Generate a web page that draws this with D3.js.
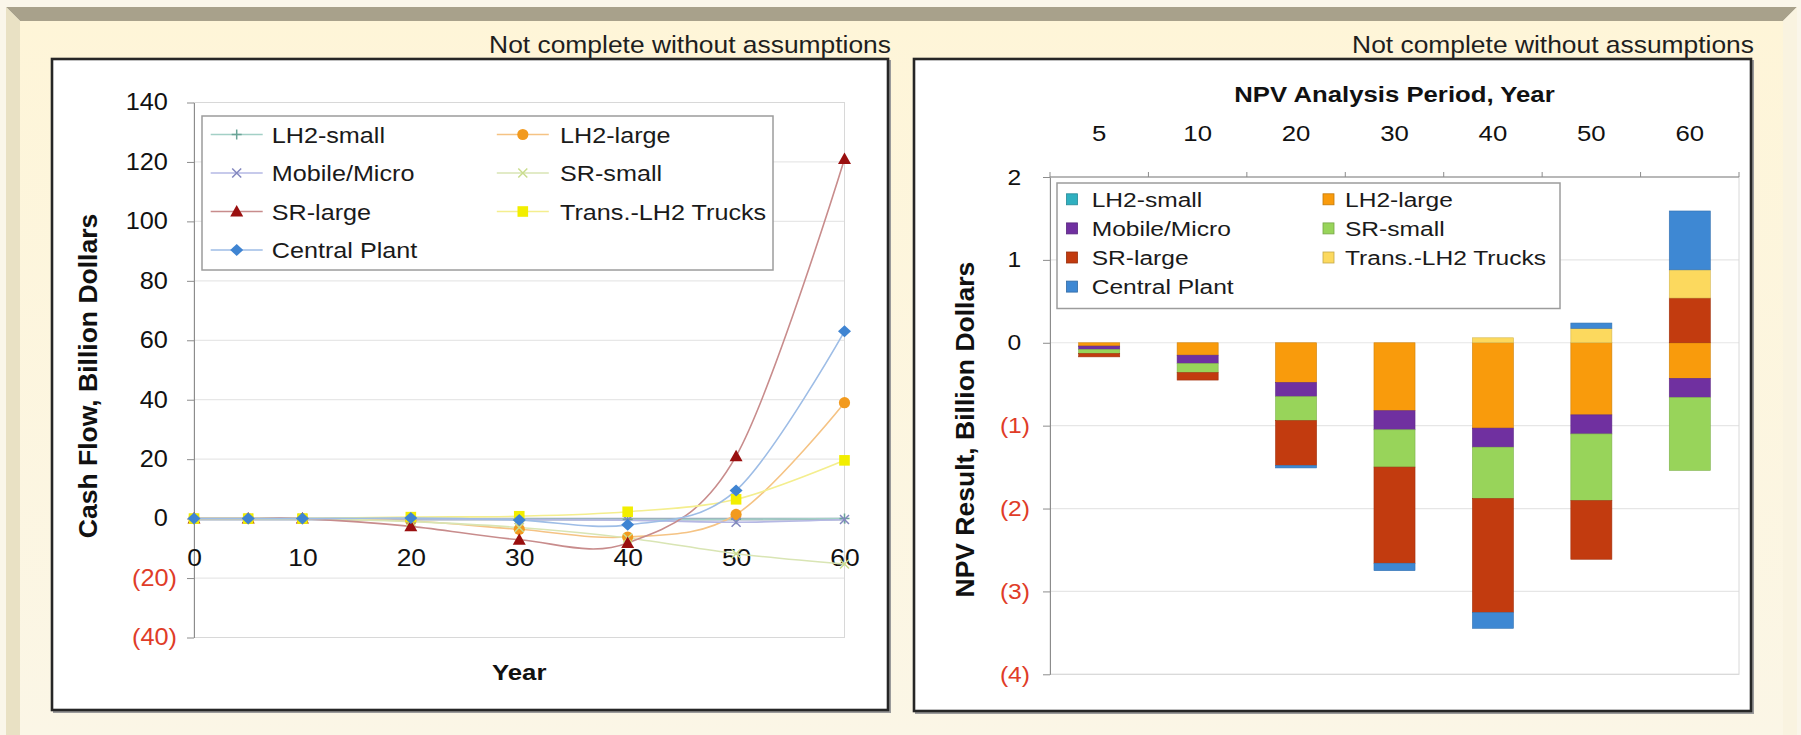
<!DOCTYPE html>
<html>
<head>
<meta charset="utf-8">
<script src="https://cdn.jsdelivr.net/npm/d3@7"></script>
<style>
  html, body { margin: 0; padding: 0; background: #faf6ea; }
  svg { display: block; font-family: "Liberation Sans", Arial, Helvetica, sans-serif; }
</style>
</head>
<body>
<svg id="chart" width="1801" height="735"></svg>
<script>
// ---------- Cash flow by year (left panel) ----------
const cashYears        = [0, 5, 10, 20, 30, 40, 50, 60];
const cashLH2small     = [0, 0, 0, 0, -0.2, -0.3, -0.2, 0];
const cashLH2large     = [0, 0, 0, -0.8, -3.6, -6.2, 1.4, 39];
const cashMobileMicro  = [0, 0, 0, 0, -0.3, -0.5, -1.2, -0.3];
const cashSRsmall      = [0, 0, 0, -1, -3, -6.5, -11.8, -15.3];
const cashSRlarge      = [0, 0, 0, -2.6, -7.1, -8.2, 21, 121];
const cashTrucks       = [0, 0, 0, 0.5, 0.8, 2.3, 6.5, 19.6];
const cashCentral      = [0, 0, 0, 0.2, -0.5, -2.1, 9.5, 63];
const cashXTicks       = [0, 10, 20, 30, 40, 50, 60];
const cashYTicks       = [-40, -20, 0, 20, 40, 60, 80, 100, 120, 140];

// ---------- NPV by analysis period (right panel) ----------
const npvPeriods     = ["5", "10", "20", "30", "40", "50", "60"];
const npvLH2small    = [0, 0, 0, 0, 0, 0, 0];
const npvLH2large    = [-0.04, -0.15, -0.48, -0.82, -1.03, -0.87, -0.43];
const npvMobileMicro = [-0.04, -0.10, -0.17, -0.23, -0.23, -0.23, -0.23];
const npvSRsmall     = [-0.05, -0.11, -0.29, -0.45, -0.62, -0.805, -0.88];
const npvSRlarge     = [-0.04, -0.09, -0.54, -1.16, -1.375, -0.707, 0.54];
const npvTrucks      = [0, 0, 0, 0, 0.06, 0.174, 0.34];
const npvCentral     = [0, 0, -0.03, -0.09, -0.19, 0.064, 0.71];
const npvYTicks      = [-4, -3, -2, -1, 0, 1, 2];

const seriesNames = ["LH2-small", "LH2-large", "Mobile/Micro", "SR-small",
                     "SR-large", "Trans.-LH2 Trucks", "Central Plant"];

const cashSeries = [cashLH2small, cashLH2large, cashMobileMicro, cashSRsmall,
                    cashSRlarge, cashTrucks, cashCentral];
const npvSeries  = [npvLH2small, npvLH2large, npvMobileMicro, npvSRsmall,
                    npvSRlarge, npvTrucks, npvCentral];

// line / marker styles for the cash-flow panel
const lineStyle = {
  "LH2-small":         { line: "#a3d0c6", color: "#6aa497", shape: "plus" },
  "LH2-large":         { line: "#f5c384", color: "#f29a1e", shape: "circle" },
  "Mobile/Micro":      { line: "#b5b8e4", color: "#8387bf", shape: "cross" },
  "SR-small":          { line: "#d9e5b4", color: "#cadd8e", shape: "cross" },
  "SR-large":          { line: "#c88c8c", color: "#9a0f0f", shape: "triangle" },
  "Trans.-LH2 Trucks": { line: "#f4ee8e", color: "#f2ee00", shape: "square" },
  "Central Plant":     { line: "#9ebde6", color: "#3f84d2", shape: "diamond" }
};
// fills for the NPV stacked bars
const barColor = {
  "LH2-small": "#2fb0c0", "LH2-large": "#f99b0c", "Mobile/Micro": "#7030a0",
  "SR-small": "#98d45a", "SR-large": "#c23b0f", "Trans.-LH2 Trucks": "#fcd95e",
  "Central Plant": "#3e88d3"
};

const FONT = '"Liberation Sans", Arial, Helvetica, sans-serif';
const NEG = "#e03c28";
const svg = d3.select("#chart");

// widen glyphs horizontally around the anchor edge
function stretch(sel, k, anchor) {
  sel.style("transform-box", "fill-box")
     .style("transform-origin", anchor === "end" ? "100% 50%" : anchor === "middle" ? "50% 50%" : "0% 50%")
     .style("transform", `scaleX(${k})`);
}
const paren = v => v < 0 ? `(${-v})` : `${v}`;

// ---------- page frame ----------
const defs = svg.append("defs");
const grad = defs.append("linearGradient").attr("id", "face")
  .attr("x1", 0).attr("y1", 0).attr("x2", 0).attr("y2", 1);
grad.append("stop").attr("offset", "0%").attr("stop-color", "#fef5d8");
grad.append("stop").attr("offset", "100%").attr("stop-color", "#fbf6e6");

svg.append("rect").attr("width", 1801).attr("height", 735).attr("fill", "#faf6ea");
svg.append("rect").attr("x", 20).attr("y", 21).attr("width", 1763).attr("height", 714).attr("fill", "url(#face)");
svg.append("polygon").attr("points", "6,7 1797,7 1783,21 20,21").attr("fill", "#a8a18b");
svg.append("polygon").attr("points", "6,7 20,21 20,735 6,735").attr("fill", "#e9e1c4");
svg.append("polygon").attr("points", "1783,21 1797,7 1797,735 1783,735").attr("fill", "#f9f3e0");

function panel(x0, y0, x1, y1) {
  svg.append("rect").attr("x", x0 + 2).attr("y", y0 + 2).attr("width", x1 - x0).attr("height", y1 - y0)
    .attr("fill", "none").attr("stroke", "#9a9a9a").attr("stroke-width", 2);
  svg.append("rect").attr("x", x0).attr("y", y0).attr("width", x1 - x0).attr("height", y1 - y0)
    .attr("fill", "#ffffff").attr("stroke", "#262626").attr("stroke-width", 2.6);
}
panel(52, 59, 888, 710);
panel(914, 59, 1751, 711);

function note(x) {
  const t = svg.append("text").attr("x", x).attr("y", 53).attr("text-anchor", "end")
    .attr("font-size", 24).attr("fill", "#1e1e1e").text("Not complete without assumptions");
  stretch(t, 1.1, "end");
}
note(891);
note(1754);

// ---------- left panel: cash flow lines ----------
const cx = d3.scaleLinear().domain([0, 60]).range([194, 844.5]);
const cy = d3.scaleLinear().domain([-40, 140]).range([637.5, 102.5]);
const L = svg.append("g");

L.append("g").selectAll("line").data(cashYTicks).join("line")
  .attr("x1", cx(0)).attr("x2", cx(60)).attr("y1", d => cy(d)).attr("y2", d => cy(d))
  .attr("stroke", "#e7e7e7").attr("stroke-width", 1.2);
L.append("rect").attr("x", cx(0)).attr("y", cy(140))
  .attr("width", cx(60) - cx(0)).attr("height", cy(-40) - cy(140))
  .attr("fill", "none").attr("stroke", "#d8d8d8");

const yAxL = L.append("g").attr("transform", `translate(${cx(0)},0)`)
  .call(d3.axisLeft(cy).tickValues(cashYTicks).tickSize(7).tickSizeOuter(0).tickPadding(10).tickFormat(paren))
  .attr("font-family", FONT).attr("font-size", 23);
yAxL.select(".domain").attr("stroke", "#8c8c8c");
yAxL.selectAll(".tick line").attr("stroke", "#8c8c8c");
yAxL.selectAll("text").attr("fill", d => d < 0 ? NEG : "#111").attr("dx", d => d >= 0 ? "-0.4em" : null);
stretch(yAxL.selectAll("text"), 1.1, "end");

const xAxL = L.append("g").attr("transform", `translate(0,${cy(0)})`)
  .call(d3.axisBottom(cx).tickValues(cashXTicks).tickSize(5).tickSizeOuter(0).tickPadding(25).tickFormat(d3.format("d")))
  .attr("font-family", FONT).attr("font-size", 24);
xAxL.select(".domain").attr("stroke", "#98a5b8").attr("stroke-width", 2.6);
xAxL.selectAll(".tick line").attr("stroke", "#98a5b8");
xAxL.selectAll("text").attr("fill", "#111");
stretch(xAxL.selectAll("text"), 1.1, "middle");

const line = d3.line().x((d, i) => cx(cashYears[i])).y(d => cy(d)).curve(d3.curveCardinal.tension(0));

function marker(g, shape, color) {
  if (shape === "circle") g.append("circle").attr("r", 5.6).attr("fill", color);
  else if (shape === "square") g.append("rect").attr("x", -5.3).attr("y", -5.3).attr("width", 10.6).attr("height", 10.6).attr("fill", color);
  else if (shape === "triangle") g.append("path").attr("d", "M0,-6.5L6.5,5L-6.5,5Z").attr("fill", color);
  else if (shape === "diamond") g.append("path").attr("d", "M0,-6L6.5,0L0,6L-6.5,0Z").attr("fill", color);
  else if (shape === "cross") g.append("path").attr("d", "M-4.5,-4.5L4.5,4.5M-4.5,4.5L4.5,-4.5").attr("stroke", color).attr("stroke-width", 1.5).attr("fill", "none");
  else if (shape === "plus") g.append("path").attr("d", "M-5,0L5,0M0,-5L0,5").attr("stroke", color).attr("stroke-width", 1.5).attr("fill", "none");
}

seriesNames.forEach((name, si) => {
  const st = lineStyle[name];
  L.append("path").attr("d", line(cashSeries[si])).attr("fill", "none")
    .attr("stroke", st.line).attr("stroke-width", 1.6);
});
seriesNames.forEach((name, si) => {
  const st = lineStyle[name];
  cashSeries[si].forEach((v, i) => {
    const g = L.append("g").attr("transform", `translate(${cx(cashYears[i])},${cy(v)})`);
    marker(g, st.shape, st.color);
  });
});

// left legend
L.append("rect").attr("x", 202).attr("y", 116).attr("width", 571).attr("height", 154)
  .attr("fill", "#fff").attr("stroke", "#9c9c9c").attr("stroke-width", 1.5);
seriesNames.forEach((name, i) => {
  const col = i % 2, row = Math.floor(i / 2);
  const mx = col === 0 ? 236.7 : 522.8;
  const tx = col === 0 ? 271.7 : 560;
  const y = 134.5 + row * 38.5;
  const st = lineStyle[name];
  L.append("line").attr("x1", mx - 26).attr("x2", mx + 26).attr("y1", y).attr("y2", y)
    .attr("stroke", st.line).attr("stroke-width", 1.6);
  marker(L.append("g").attr("transform", `translate(${mx},${y})`), st.shape, st.color);
  const t = L.append("text").attr("x", tx).attr("y", y).attr("dy", "0.36em")
    .attr("font-size", 22.5).attr("fill", "#1a1a1a").text(name);
  stretch(t, 1.12, "start");
});

// left titles
const yearT = L.append("text").attr("x", (cx(0) + cx(60)) / 2).attr("y", 680).attr("text-anchor", "middle")
  .attr("font-size", 23).attr("font-weight", "bold").attr("fill", "#111").text("Year");
stretch(yearT, 1.12, "middle");
L.append("g").attr("transform", `translate(88,${(cy(140) + cy(-40)) / 2 + 6}) rotate(-90)`)
  .append("text").attr("text-anchor", "middle").attr("dy", "0.35em")
  .attr("font-size", 26.5).attr("font-weight", "bold").attr("fill", "#111").text("Cash Flow, Billion Dollars");

// ---------- right panel: NPV stacked bars ----------
const bx = d3.scaleBand().domain(npvPeriods).range([1050, 1739]).paddingInner(0.583).paddingOuter(0.2915);
const by = d3.scaleLinear().domain([-4, 2]).range([674.3, 177]);
const R = svg.append("g");

R.append("g").selectAll("line").data(npvYTicks).join("line")
  .attr("x1", 1050).attr("x2", 1739).attr("y1", d => by(d)).attr("y2", d => by(d))
  .attr("stroke", "#e6e6e6").attr("stroke-width", 1.2);
R.append("rect").attr("x", 1050).attr("y", by(2)).attr("width", 689).attr("height", by(-4) - by(2))
  .attr("fill", "none").attr("stroke", "#d8d8d8");

const rows = npvPeriods.map((p, i) => {
  const r = { period: p };
  seriesNames.forEach((n, si) => { r[n] = npvSeries[si][i]; });
  return r;
});
const stacked = d3.stack().keys(seriesNames).offset(d3.stackOffsetDiverging)(rows);
stacked.forEach(layer => {
  R.append("g").attr("fill", barColor[layer.key])
    .selectAll("rect").data(layer).join("rect")
    .attr("x", d => bx(d.data.period))
    .attr("width", bx.bandwidth())
    .attr("y", d => by(Math.max(d[0], d[1])))
    .attr("height", d => Math.abs(by(d[0]) - by(d[1])))
    .attr("stroke", d3.color(barColor[layer.key]).darker(0.5))
    .attr("stroke-width", 0.6);
});

// value axis (left)
const yAxR = R.append("g").attr("transform", "translate(1050,0)")
  .call(d3.axisLeft(by).tickValues(npvYTicks).tickSize(7).tickSizeOuter(0).tickPadding(13).tickFormat(paren))
  .attr("font-family", FONT).attr("font-size", 22);
yAxR.select(".domain").attr("stroke", "#8c8c8c");
yAxR.selectAll(".tick line").attr("stroke", "#8c8c8c");
yAxR.selectAll("text").attr("fill", d => d < 0 ? NEG : "#111").attr("dx", d => d >= 0 ? "-0.4em" : null);
stretch(yAxR.selectAll("text"), 1.12, "end");

// category axis along the top
R.append("line").attr("x1", 1050).attr("x2", 1739).attr("y1", by(2)).attr("y2", by(2))
  .attr("stroke", "#8c8c8c").attr("stroke-width", 1.2);
const step = bx.step();
R.append("g").selectAll("line").data(d3.range(npvPeriods.length + 1)).join("line")
  .attr("x1", k => 1050 + k * step).attr("x2", k => 1050 + k * step)
  .attr("y1", by(2)).attr("y2", by(2) - 5).attr("stroke", "#8c8c8c");
const catT = R.append("g").selectAll("text").data(npvPeriods).join("text")
  .attr("x", d => bx(d) + bx.bandwidth() / 2).attr("y", 141).attr("text-anchor", "middle")
  .attr("font-size", 23).attr("fill", "#111").text(d => d);
stretch(catT, 1.12, "middle");
const topT = R.append("text").attr("x", 1394.5).attr("y", 102).attr("text-anchor", "middle")
  .attr("font-size", 22).attr("font-weight", "bold").attr("fill", "#111").text("NPV Analysis Period, Year");
stretch(topT, 1.17, "middle");
R.append("g").attr("transform", `translate(965,${(by(2) + by(-4)) / 2 + 4}) rotate(-90)`)
  .append("text").attr("text-anchor", "middle").attr("dy", "0.35em")
  .attr("font-size", 26.5).attr("font-weight", "bold").attr("fill", "#111").text("NPV Result, Billion Dollars");

// right legend
R.append("rect").attr("x", 1057).attr("y", 183).attr("width", 503).attr("height", 125.5)
  .attr("fill", "#fff").attr("stroke", "#9c9c9c").attr("stroke-width", 1.5);
seriesNames.forEach((name, i) => {
  const col = i % 2, row = Math.floor(i / 2);
  const sx = col === 0 ? 1066.5 : 1323;
  const tx = col === 0 ? 1091.7 : 1345;
  const y = 199.3 + row * 29.1;
  R.append("rect").attr("x", sx).attr("y", y - 5.5).attr("width", 11).attr("height", 11)
    .attr("fill", barColor[name]).attr("stroke", d3.color(barColor[name]).darker(0.7)).attr("stroke-width", 0.8);
  const t = R.append("text").attr("x", tx).attr("y", y).attr("dy", "0.36em")
    .attr("font-size", 21).attr("fill", "#1a1a1a").text(name);
  stretch(t, 1.17, "start");
});
</script>
</body>
</html>
